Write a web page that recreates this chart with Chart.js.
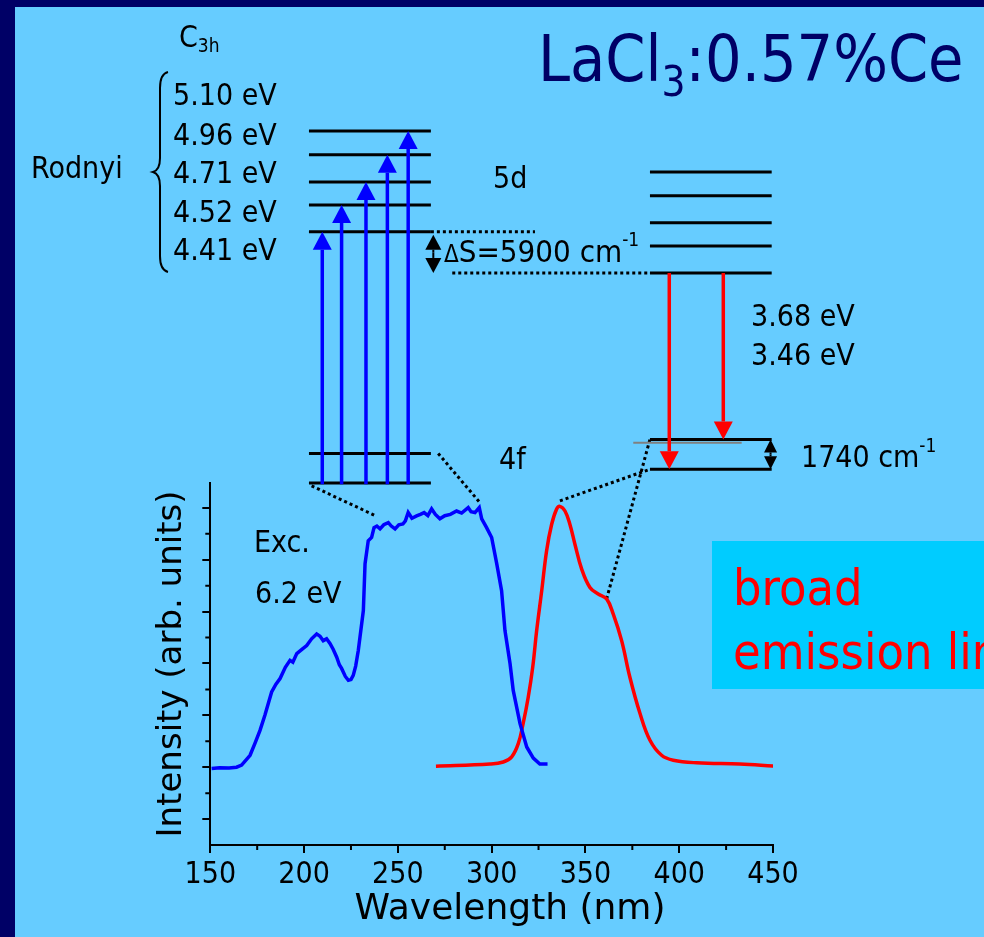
<!DOCTYPE html>
<html>
<head>
<meta charset="utf-8">
<script src="https://cdn.jsdelivr.net/npm/chart.js@4.4.1/dist/chart.umd.min.js"></script>
<style>
  html, body { margin: 0; padding: 0; background: #000066; }
  #slide { position: absolute; left: 15px; top: 7px; width: 969px; height: 930px; background: #66CCFF; }
  canvas { position: absolute; left: 0; top: 0; }
</style>
</head>
<body>
<div id="slide"></div>
<canvas id="chart" width="984" height="937"></canvas>
<script>
// Excitation spectrum (blue) and emission spectrum (red), arb. units
const excWavelength = [150.7, 155, 160, 164, 166.7, 171.2, 173.8, 176.5, 179.1, 182.7, 185, 187.2, 190, 192.5, 194,
  196.1, 199, 201.4, 204, 206.7, 208.5, 210.2, 212, 213.8, 215.5, 217.4, 218.8, 220, 222, 223.6, 225, 226.2, 227.5,
  228.9, 230.3, 231.6, 232.5, 234.2, 236, 237.3, 238.8, 240.5, 242.5, 244.9, 246.5, 248.5, 250.5, 252.7, 254, 255.5,
  257.5, 260, 262, 264, 266, 268, 270, 272.4, 275, 278, 281.3, 284, 287.5, 289, 291.1, 293.4, 294.7, 297.3, 300,
  302.7, 305.3, 307.1, 309.8, 311.5, 315.1, 318.7, 322.2, 325.7, 329.8];
const excIntensity = [1.95, 1.98, 1.97, 2.0, 2.08, 2.46, 2.92, 3.42, 4.0, 4.9, 5.2, 5.42, 5.85, 6.12, 6.05,
  6.38, 6.55, 6.69, 6.95, 7.14, 7.05, 6.88, 6.95, 6.77, 6.55, 6.24, 5.95, 5.81, 5.5, 5.35, 5.38, 5.54, 5.9,
  6.5, 7.3, 8.04, 9.85, 10.73, 10.86, 11.24, 11.3, 11.19, 11.35, 11.43, 11.3, 11.19, 11.35, 11.38, 11.5, 11.82,
  11.6, 11.69, 11.75, 11.82, 11.7, 11.96, 11.75, 11.58, 11.7, 11.75, 11.88, 11.8, 12.01, 11.85, 11.82, 12.01, 11.58, 11.24, 10.86,
  9.85, 8.81, 7.27, 6.0, 4.96, 3.69, 2.78, 2.35, 2.12, 2.12];
const emWavelength = [270.3, 299.1, 306.2, 310.7, 314.2, 316.8, 319.5, 321.9, 324, 326.7, 329.3, 332, 334.6, 336.4,
  339.1, 341.7, 344.4, 348, 352.4, 356.8, 361.3, 364.8, 369.3, 373.7, 379.1, 384.4, 390.6, 396.8, 409.3, 432.3, 450.1];
const emIntensity = [2.04, 2.12, 2.2, 2.4, 2.91, 3.69, 4.7, 5.86, 7.27, 8.81, 10.35, 11.37, 11.95, 12.06,
  11.88, 11.37, 10.6, 9.64, 8.93, 8.68, 8.49, 7.91, 6.88, 5.47, 4.07, 3.04, 2.46, 2.27, 2.17, 2.12, 2.05];

const wavelengthMinor = [175, 225, 275, 325, 375, 425];
const intensityMajor = [0, 2, 4, 6, 8, 10, 12];
const intensityMinor = [1, 3, 5, 7, 9, 11];

// Energy level scheme (schematic), drawn on the same wavelength / intensity scales
const absLevels5d = [22.65, 23.68, 24.57, 25.62, 26.53];
const absLevels4f = [12.96, 14.10];
const absSpan = [202.6, 267.6];
const absArrowX = [209.7, 220.0, 233.0, 244.4, 255.5];
const emLevels5d = [21.06, 22.10, 23.00, 24.04, 24.95];
const emLevels4f = [13.49, 14.64];
const emSpan = [384.4, 449.3];
const emArrowX = [394.7, 423.5];
const emArrowTo = [13.49, 14.64];
const rodnyiLabels = ['5.10 eV', '4.96 eV', '4.71 eV', '4.52 eV', '4.41 eV'];
const emissionLabels = ['3.68 eV', '3.46 eV'];

// dotted guides: [x0, y0, x1, y1]
const guides = [
  [267.6, 22.65, 323.1, 22.65],
  [279.0, 21.06, 384.4, 21.06],
  [204.0, 12.85, 238.3, 11.69],
  [271.5, 14.10, 293.8, 12.20],
  [336.4, 12.27, 384.4, 13.49],
  [361.3, 8.49, 384.4, 14.64]
];
const grayLine = [375.5, 433.3, 14.51];

const FONT = "'DejaVu Sans Condensed', 'DejaVu Sans', sans-serif";

function levelPoints(span, levels) {
  const pts = [];
  levels.forEach(v => {
    pts.push({x: span[0], y: v}, {x: span[1], y: v}, {x: span[1], y: null});
  });
  return pts;
}

function guidePoints() {
  const pts = [];
  guides.forEach(g => {
    pts.push({x: g[0], y: g[1]}, {x: g[2], y: g[3]}, {x: g[2], y: null});
  });
  return pts;
}

function drawRuns(ctx, runs, x, y, color) {
  ctx.fillStyle = color;
  ctx.textAlign = 'left';
  ctx.textBaseline = 'alphabetic';
  for (const [t, size, dy] of runs) {
    ctx.font = size + 'px ' + FONT;
    ctx.fillText(t, x, y + (dy || 0));
    x += ctx.measureText(t).width;
  }
}

// arrow along a vertical line, tip at y1
function arrow(ctx, px, y0, y1, color, w, hw, hl) {
  const dir = y1 > y0 ? 1 : -1;
  ctx.strokeStyle = color;
  ctx.fillStyle = color;
  ctx.lineWidth = w;
  ctx.beginPath();
  ctx.moveTo(px, y0);
  ctx.lineTo(px, y1 - dir * hl);
  ctx.stroke();
  ctx.beginPath();
  ctx.moveTo(px, y1);
  ctx.lineTo(px - hw / 2, y1 - dir * hl);
  ctx.lineTo(px + hw / 2, y1 - dir * hl);
  ctx.closePath();
  ctx.fill();
}

const decorations = {
  id: 'decorations',
  beforeDraw(chart) {
    const ctx = chart.ctx;
    ctx.save();
    ctx.fillStyle = '#00CCFF';
    ctx.fillRect(712, 541, 272, 148);
    ctx.restore();
  },
  afterDatasetsDraw(chart) {
    const {ctx, scales: {x, y}} = chart;
    ctx.save();
    // excitation arrows
    absArrowX.forEach((v, i) => {
      arrow(ctx, x.getPixelForValue(v), y.getPixelForValue(absLevels4f[0] - 0.05),
        y.getPixelForValue(absLevels5d[i]), '#0000FF', 3.5, 19, 18);
    });
    // emission arrows
    emArrowX.forEach((v, i) => {
      arrow(ctx, x.getPixelForValue(v), y.getPixelForValue(emLevels5d[0]),
        y.getPixelForValue(emArrowTo[i]), '#FF0000', 3.5, 19, 18);
    });
    // Stokes shift and ground state splitting markers
    const sx = x.getPixelForValue(268.9);
    const sMid = y.getPixelForValue((absLevels5d[0] + emLevels5d[0]) / 2);
    arrow(ctx, sx, sMid, y.getPixelForValue(absLevels5d[0]) + 3, '#000', 2, 16, 15);
    arrow(ctx, sx, sMid, y.getPixelForValue(emLevels5d[0]), '#000', 2, 16, 15);
    const gx = x.getPixelForValue(448.7);
    const gMid = y.getPixelForValue((emLevels4f[0] + emLevels4f[1]) / 2);
    arrow(ctx, gx, gMid, y.getPixelForValue(emLevels4f[1]), '#000', 2, 13, 13);
    arrow(ctx, gx, gMid, y.getPixelForValue(emLevels4f[0]), '#000', 2, 13, 13);
    ctx.restore();
  },
  afterDraw(chart) {
    const {ctx, chartArea: a, scales: {x, y}} = chart;
    ctx.save();
    // minor ticks
    ctx.strokeStyle = '#000';
    ctx.lineWidth = 2;
    ctx.beginPath();
    wavelengthMinor.forEach(v => {
      const px = x.getPixelForValue(v);
      ctx.moveTo(px, a.bottom);
      ctx.lineTo(px, a.bottom + 5);
    });
    intensityMinor.forEach(v => {
      const py = y.getPixelForValue(v);
      ctx.moveTo(a.left - 5, py);
      ctx.lineTo(a.left, py);
    });
    ctx.stroke();

    // brace next to Rodnyi's values
    ctx.lineWidth = 2;
    ctx.beginPath();
    ctx.moveTo(168, 72);
    ctx.quadraticCurveTo(160, 74, 160, 88);
    ctx.lineTo(160, 158);
    ctx.quadraticCurveTo(160, 170, 153, 172);
    ctx.quadraticCurveTo(160, 174, 160, 186);
    ctx.lineTo(160, 256);
    ctx.quadraticCurveTo(160, 270, 168, 272);
    ctx.stroke();

    // x axis title
    ctx.font = '36px "DejaVu Sans", sans-serif';
    ctx.fillStyle = '#000';
    ctx.textAlign = 'center';
    ctx.textBaseline = 'alphabetic';
    ctx.fillText('Wavelength (nm)', 510, 919);

    // texts
    drawRuns(ctx, [['LaCl', 64], ['3', 42, 15], [':0.57%Ce', 64]], 538, 81, '#000066');
    drawRuns(ctx, [['C', 30], ['3h', 19, 5]], 179, 47, '#000');
    const baselines = [105, 145, 183, 222, 260];
    rodnyiLabels.forEach((t, i) => drawRuns(ctx, [[t, 30]], 173, baselines[i], '#000'));
    drawRuns(ctx, [['Rodnyi', 30]], 31, 178, '#000');
    drawRuns(ctx, [['5d', 30]], 493, 188, '#000');
    drawRuns(ctx, [['\u0394', 24], ['S=5900 cm', 31], ['-1', 19, -16]], 444, 262, '#000');
    emissionLabels.forEach((t, i) => drawRuns(ctx, [[t, 30]], 751, [326, 365][i], '#000'));
    drawRuns(ctx, [['4f', 30]], 499, 469, '#000');
    drawRuns(ctx, [['1740 cm', 30], ['-1', 19, -15]], 801, 467, '#000');
    drawRuns(ctx, [['Exc.', 30]], 254, 552, '#000');
    drawRuns(ctx, [['6.2 eV', 30]], 255, 603, '#000');
    drawRuns(ctx, [['broad', 50]], 733, 605, '#FF0000');
    drawRuns(ctx, [['emission line', 50]], 733, 669, '#FF0000');
    ctx.restore();
  }
};

const diagramStyle = {
  pointRadius: 0,
  tension: 0,
  clip: false,
  spanGaps: false
};

new Chart(document.getElementById('chart'), {
  type: 'line',
  data: {
    datasets: [
      {
        label: 'Excitation',
        data: excWavelength.map((w, i) => ({x: w, y: excIntensity[i]})),
        borderColor: '#0000FF',
        borderWidth: 3.5,
        pointRadius: 0,
        tension: 0
      },
      {
        label: 'Emission',
        data: emWavelength.map((w, i) => ({x: w, y: emIntensity[i]})),
        borderColor: '#FF0000',
        borderWidth: 3.5,
        pointRadius: 0,
        tension: 0.4
      },
      Object.assign({
        label: 'levels',
        data: levelPoints(absSpan, absLevels5d).concat(levelPoints(absSpan, absLevels4f),
          levelPoints(emSpan, emLevels5d), levelPoints(emSpan, emLevels4f)),
        borderColor: '#000',
        borderWidth: 3
      }, diagramStyle),
      Object.assign({
        label: 'gray',
        data: [{x: grayLine[0], y: grayLine[2]}, {x: grayLine[1], y: grayLine[2]}],
        borderColor: '#808080',
        borderWidth: 2
      }, diagramStyle),
      Object.assign({
        label: 'guides',
        data: guidePoints(),
        borderColor: '#000',
        borderWidth: 3,
        borderDash: [3, 3]
      }, diagramStyle)
    ]
  },
  options: {
    responsive: false,
    animation: false,
    layout: {padding: {left: 140, right: 211, top: 483, bottom: 0}},
    plugins: {
      legend: {display: false},
      tooltip: {enabled: false}
    },
    scales: {
      x: {
        type: 'linear',
        min: 150,
        max: 450,
        afterFit: s => { s.height = 92; },
        ticks: {
          stepSize: 50,
          padding: 4,
          color: '#000',
          font: {family: FONT, size: 30, lineHeight: 1.2}
        },
        grid: {drawOnChartArea: false, tickLength: 8, color: '#000', lineWidth: 2},
        border: {color: '#000', width: 2}
      },
      y: {
        type: 'linear',
        min: -1,
        max: 12.96,
        afterFit: s => { s.width = 70.3; },
        afterBuildTicks: s => { s.ticks = intensityMajor.map(v => ({value: v})); },
        ticks: {display: false},
        grid: {drawOnChartArea: false, tickLength: 8, color: '#000', lineWidth: 2},
        border: {color: '#000', width: 2},
        title: {
          display: true,
          text: 'Intensity (arb. units)',
          color: '#000',
          padding: {top: 15, bottom: 0},
          font: {family: "'DejaVu Sans', sans-serif", size: 34, lineHeight: 1}
        }
      }
    }
  },
  plugins: [decorations]
});
</script>
</body>
</html>
